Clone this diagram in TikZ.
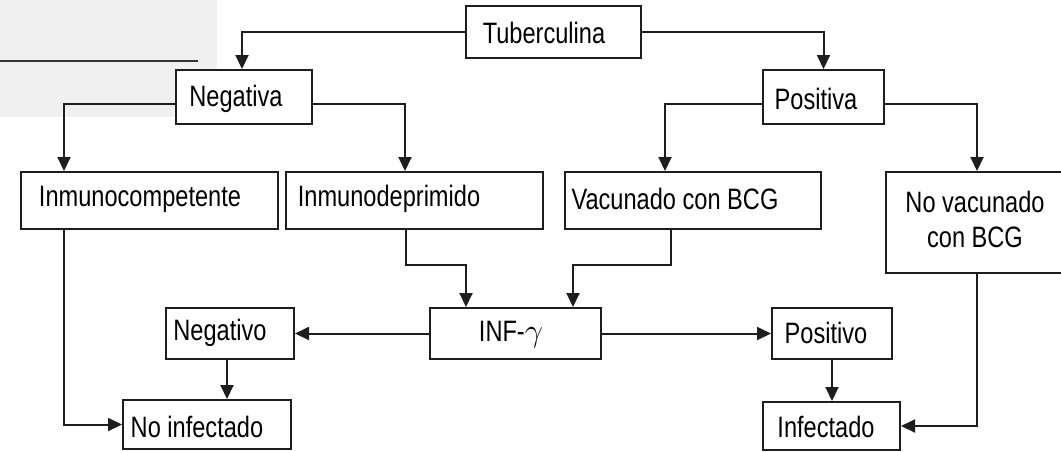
\documentclass[tikz,border=0pt]{standalone}
\usepackage{fontspec}
\setmainfont{Liberation Sans}[FakeStretch=0.8]
\usetikzlibrary{arrows.meta}
\definecolor{ink}{HTML}{1E1E1E}
\definecolor{bggray}{HTML}{F0F0F0}
\begin{document}
\begin{tikzpicture}[x=1pt,y=-1pt,
  box/.style={draw=ink, line width=2pt, fill=white, inner sep=0pt, rectangle},
  txt/.style={inner sep=0pt, text=black, font=\fontsize{29.5}{35}\selectfont},
  arr/.style={draw=ink, line width=2pt, -{Triangle[length=14pt,width=13pt]}},
  ln/.style={draw=ink, line width=2pt}]
\clip (0,0) rectangle (1061,451);
\fill[white] (0,0) rectangle (1061,451);
\fill[bggray] (0,0) rectangle (217,117);
\draw[draw=ink!90, line width=1.5pt] (0,61) -- (198,61);

% boxes
\node[box, minimum width=175pt, minimum height=52pt] (tub) at (553.5,32) {};
\node[box, minimum width=136pt, minimum height=54pt] (neg) at (244,97) {};
\node[box, minimum width=121pt, minimum height=54pt] (pos) at (823.5,97) {};
\node[box, minimum width=257pt, minimum height=57pt] (ic) at (149.5,200.5) {};
\node[box, minimum width=257pt, minimum height=57pt] (id) at (414.5,200.5) {};
\node[box, minimum width=256pt, minimum height=57pt] (vac) at (693,200.5) {};
\node[box, minimum width=189pt, minimum height=101pt] (nv) at (980.5,222.5) {};
\node[box, minimum width=171pt, minimum height=51pt] (inf) at (515.5,333.5) {};
\node[box, minimum width=128pt, minimum height=51pt] (negv) at (230,333.5) {};
\node[box, minimum width=120pt, minimum height=51pt] (posv) at (832,333.5) {};
\node[box, minimum width=168pt, minimum height=49pt] (noinf) at (207,424.5) {};
\node[box, minimum width=137pt, minimum height=48pt] (infc) at (831.5,426) {};

% texts
\node[txt] (tubT) at (544,33) {Tuberculina};
\node[txt] (negT) at (236,99) {Negativa};
\node[txt] (posT) at (816,99) {Positiva};
\node[txt] (icT) at (140,199) {Inmunocompetente};
\node[txt] (idT) at (389,199) {Inmunodeprimido};
\node[txt] (vacT) at (675,199) {Vacunado con BCG};
\node[txt, align=center] (nvT) at (975,219) {No vacunado\\con BCG};
\node[txt] (infT) at (511,334) {INF-\scalebox{1.3}{$\gamma$}};
\node[txt] (negvT) at (220,333) {Negativo};
\node[txt] (posvT) at (826,333) {Positivo};
\node[txt] (noinfT) at (197,427) {No infectado};
\node[txt] (infcT) at (826,427) {Infectado};

% connectors
\draw[arr] (tub.west) -| (242,0 |- neg.north);
\draw[arr] (tub.east) -| (823.5,0 |- pos.north);
\draw[arr] (neg.west |- 0,104) -| (64,0 |- ic.north);
\draw[arr] (neg.east |- 0,104) -| (405,0 |- id.north);
\draw[arr] (pos.west |- 0,104) -| (665,0 |- vac.north);
\draw[arr] (pos.east |- 0,104) -| (977,0 |- nv.north);
\draw[arr] (406,0 |- id.south) -- (406,265) -| (466,0 |- inf.north);
\draw[arr] (671,0 |- vac.south) -- (671,265) -| (573,0 |- inf.north);
\draw[arr] (inf.west) -- (negv.east);
\draw[arr] (inf.east) -- (posv.west);
\draw[arr] (227,0 |- negv.south) -- (227,0 |- noinf.north);
\draw[arr] (64,0 |- ic.south) |- (noinf.west);
\draw[arr] (832,0 |- posv.south) -- (832,0 |- infc.north);
\draw[arr] (977,0 |- nv.south) |- (infc.east);
\end{tikzpicture}
\end{document}
